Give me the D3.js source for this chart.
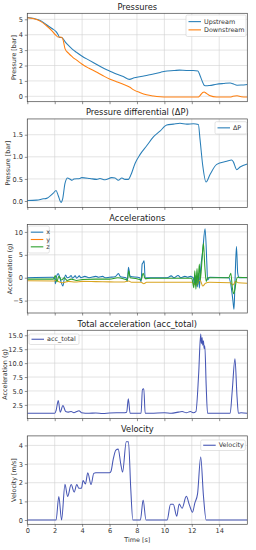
<!DOCTYPE html>
<html><head><meta charset="utf-8">
<script src="https://cdn.jsdelivr.net/npm/d3@7"></script>
<style>body{margin:0;background:#fff}svg{display:block;font-family:"DejaVu Sans",sans-serif}</style>
</head><body><svg id="c" width="256" height="550"></svg>
<script>
// ---------- DATA ----------
const timeTicks = [0,2,4,6,8,10,12,14];
const panelTitles = ["Pressures","Pressure differential (\u0394P)","Accelerations","Total acceleration (acc_total)","Velocity"];
const yLabels = ["Pressure [bar]","Pressure [bar]","Acceleration (g)","Acceleration (g)","Velocity [m/s]"];

const pTime = [0,0.5,1.0,1.4,1.8,2.1,2.25,2.35,2.5,2.6,2.75,3.0,3.3,3.6,4.0,4.5,5.0,5.5,6.0,6.5,7.0,7.45,7.8,8.2,8.7,9.2,9.7,10.2,10.7,11.1,11.6,12.1,12.45,12.6,12.8,12.9,13.05,13.3,13.8,14.3,14.8,15.0,15.3,15.6,16.05];
const upstream = [5.12,5.05,4.9,4.65,4.4,4.2,4.0,3.82,3.82,3.75,3.55,3.3,3.05,2.85,2.6,2.35,2.1,1.85,1.65,1.45,1.28,1.1,1.2,1.27,1.35,1.45,1.55,1.65,1.67,1.7,1.68,1.68,1.65,1.35,0.9,0.72,0.68,0.7,0.78,0.83,0.87,0.82,0.72,0.73,0.77];
const downstream = [5.1,5.03,4.85,4.58,4.25,3.95,3.85,3.85,3.84,3.7,3.1,2.8,2.55,2.35,2.08,1.82,1.6,1.35,1.12,0.95,0.78,0.6,0.4,0.25,0.1,0.02,-0.03,-0.05,-0.05,-0.05,-0.05,-0.05,-0.05,0.05,0.25,0.28,0.2,0.05,-0.05,-0.05,-0.05,0.0,0.03,-0.03,-0.05];

const dpTime = [0,0.68,1.17,1.4,1.9,2.1,2.26,2.46,2.58,2.75,2.94,3.1,3.26,3.4,3.84,3.97,4.57,5.06,5.3,5.67,6.16,6.4,6.64,6.9,7.13,7.37,7.57,7.86,8.22,8.71,9.2,9.68,10.17,10.66,11.14,11.63,12.12,12.48,12.6,12.8,13.04,13.33,13.82,14.55,14.91,15.04,15.28,15.52,16.05];
const deltaP = [0.01,0.02,0.05,0.06,0.18,0.24,0.12,-0.03,0.05,0.40,0.52,0.50,0.47,0.50,0.51,0.53,0.51,0.49,0.51,0.48,0.53,0.52,0.47,0.52,0.49,0.49,0.6,0.85,1.05,1.25,1.45,1.58,1.72,1.74,1.76,1.74,1.75,1.73,1.4,0.8,0.43,0.6,0.83,0.9,0.93,0.88,0.71,0.77,0.84];

const axTime = [0,1.9,2.0,2.05,2.12,2.25,2.35,2.45,2.6,2.7,2.8,2.9,3.1,3.2,3.3,3.5,3.6,3.8,3.9,4.2,4.5,5.0,5.2,5.5,5.7,6.0,6.4,6.65,6.8,7.2,7.3,7.38,7.5,8.2,8.3,8.38,8.45,8.52,8.6,8.7,10.2,10.5,10.7,11.0,11.2,11.5,11.7,11.9,12.1,12.2,12.3,12.4,12.5,12.55,12.65,12.8,12.97,13.1,13.15,13.3,14.7,14.85,15.0,15.08,15.15,15.26,15.35,15.45,16.05];
const accX = [0.0,0.1,-0.2,-1.3,0.2,0.9,0.3,-0.8,-1.8,-0.2,0.6,0.0,0.2,0.5,-0.1,0.4,-0.1,0.4,0.0,0.3,0.0,0.3,0.1,0.3,0.0,0.1,0.2,0.9,0.2,0.0,-0.8,2.3,0.3,0.0,-0.9,3.0,3.3,3.7,-0.2,0.0,0.0,0.4,0.0,0.5,0.0,0.3,0.1,0.3,0.0,-1.5,0.5,-2.0,1.0,-2.3,2.0,6.0,10.7,3.0,-0.5,0.1,0.0,-1.5,-5.0,-6.9,-1.0,6.8,1.0,0.0,0.05];
const ayTime = [0,2.0,2.1,2.3,2.6,3.0,3.5,4.0,5.0,6.0,7.0,7.4,7.6,8.3,8.5,8.7,10.0,12.0,12.3,12.6,12.8,13.0,13.3,14.8,15.0,15.2,15.4,16.05];
const accY = [-0.65,-0.7,-0.5,-0.9,-1.1,-0.8,-0.95,-0.8,-0.85,-0.9,-0.95,-0.7,-1.0,-1.0,-1.3,-1.0,-1.0,-1.0,-1.6,-0.5,-1.8,-1.2,-1.0,-1.1,-1.6,-0.8,-1.1,-1.2];
const azTime = [0,1.9,2.05,2.15,2.3,2.5,2.7,2.9,3.2,3.6,4.0,5.0,6.0,6.6,7.0,7.3,7.4,7.5,8.0,8.3,8.45,8.6,9.0,12.0,12.15,12.22,12.3,12.38,12.45,12.55,12.62,12.75,12.85,12.95,13.05,13.15,14.7,14.85,14.95,15.05,15.15,15.25,15.35,16.05];
const accZ = [-0.3,-0.3,0.5,-0.9,0.3,-0.5,0.0,-0.6,-0.3,-0.6,-0.4,-0.3,-0.3,0.0,-0.2,-0.5,1.5,0.0,-0.2,-0.5,1.0,-0.2,-0.1,-0.1,-2.2,1.5,-2.5,2.0,-1.5,3.0,-0.5,4.0,7.5,2.5,-0.8,0.0,0.0,1.0,-2.0,-3.5,-2.5,-0.5,0.1,0.0];

const atTime = [0,2.0,2.1,2.26,2.4,2.6,2.8,3.0,3.2,3.4,3.6,3.77,3.95,4.5,5.0,5.5,6.0,6.5,7.0,7.25,7.37,7.5,8.3,8.4,8.5,8.6,9.0,10.0,10.5,11.0,11.3,11.6,11.9,12.1,12.3,12.5,12.65,12.7,12.75,12.8,12.85,12.9,12.95,13.05,13.15,14.8,14.95,15.15,15.3,15.4,15.6,16.05];
const accTotal = [1.0,1.0,1.5,3.3,1.2,2.4,1.3,1.2,1.3,1.1,1.3,1.45,1.1,1.0,1.05,0.95,1.05,1.1,1.1,1.2,3.6,1.0,1.0,5.3,5.4,1.0,1.0,1.1,1.0,1.2,1.3,1.1,1.3,1.1,1.3,8.0,15.2,13.5,14.6,13.2,14.0,12.6,13.1,6.0,1.0,1.0,5.0,10.8,4.0,1.0,1.1,1.0];

const vTime = [0,2.1,2.3,2.5,2.75,2.94,3.2,3.42,3.61,3.76,3.95,4.07,4.24,4.41,4.65,4.85,5.0,6.0,6.1,6.27,6.46,6.63,6.82,6.95,7.22,7.38,7.55,7.7,8.25,8.45,8.66,10.2,10.45,10.65,10.9,11.08,11.29,11.6,11.83,12.05,12.22,12.42,12.65,12.85,13.05,16.05];
const velocity = [0,0,1.26,0,1.91,1.26,1.9,1.5,1.9,1.7,1.7,2.12,1.93,2.53,1.9,2.5,2.53,2.53,2.6,3.26,3.75,3.8,3.0,2.57,4.2,4.2,1.65,0,0,1.07,0,0,0.85,0.85,0.2,0.86,0.63,1.27,0.8,0.42,0.9,1.4,3.38,1.3,0,0];

const yTicks = [[0,1,2,3,4,5],[0,0.5,1.0,1.5],[-5,0,5,10],[2.5,5,7.5,10,12.5,15],[0,1,2,3,4]];
const yFormats = ["d",".1f","d",".1f","d"];

// ---------- LAYOUT ----------
const L = 27.3, R = 247.3, T0 = 13.3, STEP = 105.65, H = 88.4;
const yDomains = [[-0.35,5.39],[-0.143,1.857],[-7.7,11.6],[0.03,15.9],[-0.23,4.51]];
const yLabelX = [14,8.5,10,5,14];
const C = {blue:"#2a7fb8", orange:"#ff7f0e", green:"#2ca02c", yel:"#d9a520", indigo:"#4656b4"};

const svg = d3.select("#c");
const x = d3.scaleLinear().domain([0,16.05]).range([L,R]);

const series = [
  [{t:pTime,v:upstream,c:C.blue,n:"Upstream"},{t:pTime,v:downstream,c:C.orange,n:"Downstream"}],
  [{t:dpTime,v:deltaP,c:C.blue,n:"\u0394P"}],
  [{t:axTime,v:accX,c:"#1f77b4",n:"x"},{t:ayTime,v:accY,c:C.yel,n:"y",lc:C.orange},{t:azTime,v:accZ,c:C.green,n:"z"}],
  [{t:atTime,v:accTotal,c:C.indigo,n:"acc_total"}],
  [{t:vTime,v:velocity,c:C.indigo,n:"Velocity"}]
];
const legends = [
  {x:186,y:15,w:60,h:21.5},
  {x:215,y:121.7,w:31.7,h:12.3},
  {x:28.3,y:226,w:21,h:27},
  {x:29,y:334,w:50,h:10.5},
  {x:200.7,y:440,w:44.6,h:10.5}
];

series.forEach((ser,i)=>{
  const top = T0 + i*STEP, bot = top + H;
  const y = d3.scaleLinear().domain(yDomains[i]).range([bot,top]);
  const g = svg.append("g");
  const clipId = "clip"+i;
  svg.append("clipPath").attr("id",clipId).append("rect").attr("x",L).attr("y",top).attr("width",R-L).attr("height",H);
  // grid
  g.append("g").selectAll("line").data(timeTicks).join("line")
    .attr("x1",d=>x(d)).attr("x2",d=>x(d)).attr("y1",top).attr("y2",bot)
    .attr("stroke","#d2d2d2").attr("stroke-width",0.6);
  g.append("g").selectAll("line").data(yTicks[i]).join("line")
    .attr("x1",L).attr("x2",R).attr("y1",d=>y(d)).attr("y2",d=>y(d))
    .attr("stroke","#d2d2d2").attr("stroke-width",0.6);
  // lines
  const pg = g.append("g").attr("clip-path",`url(#${clipId})`);
  ser.forEach(s=>{
    const pts = s.t.map((t,k)=>[t,s.v[k]]);
    pg.append("path").datum(pts)
      .attr("d",d3.line().x(d=>x(d[0])).y(d=>y(d[1])).curve(d3.curveMonotoneX))
      .attr("fill","none").attr("stroke",s.c).attr("stroke-width",1.05).attr("stroke-linejoin","round");
  });
  // axes
  const ax = g.append("g").attr("transform",`translate(0,${bot})`)
    .call(d3.axisBottom(x).tickValues(timeTicks).tickSize(2.5).tickPadding(2).tickFormat(i===4?d3.format("d"):""));
  const ay = g.append("g").attr("transform",`translate(${L},0)`)
    .call(d3.axisLeft(y).tickValues(yTicks[i]).tickSize(2.5).tickPadding(1.8).tickFormat(d3.format(yFormats[i])));
  [ax,ay].forEach(a=>{
    a.select(".domain").remove();
    a.selectAll("line").attr("stroke","#444").attr("stroke-width",0.6);
    a.selectAll("text").attr("font-size",6.6).attr("fill","#333").attr("font-family","DejaVu Sans");
  });
  // frame
  g.append("rect").attr("x",L).attr("y",top).attr("width",R-L).attr("height",H)
    .attr("fill","none").attr("stroke","#444").attr("stroke-width",0.7);
  // title
  g.append("text").attr("x",(L+R)/2).attr("y",top-3.5).attr("text-anchor","middle")
    .attr("font-size",8.3).attr("fill","#222").text(panelTitles[i]);
  // y label
  g.append("text").attr("transform",`translate(${yLabelX[i]},${(top+bot)/2}) rotate(-90)`)
    .attr("text-anchor","middle").attr("dominant-baseline","middle")
    .attr("font-size",6.4).attr("fill","#333").text(yLabels[i]);
  // legend
  const lg = legends[i];
  const leg = g.append("g");
  leg.append("rect").attr("x",lg.x).attr("y",lg.y).attr("width",lg.w).attr("height",lg.h).attr("rx",1.5)
    .attr("fill","#fff").attr("fill-opacity",0.85).attr("stroke","#d0d0d0").attr("stroke-width",0.6);
  const rowH = ser.length>1 ? (lg.h-5)/ser.length : 0;
  ser.forEach((s,k)=>{
    const cy = ser.length>1 ? lg.y + 2.5 + rowH*(k+0.5) : lg.y + lg.h/2;
    leg.append("line").attr("x1",lg.x+2.5).attr("x2",lg.x+15).attr("y1",cy).attr("y2",cy)
      .attr("stroke",s.lc||s.c).attr("stroke-width",1.1);
    leg.append("text").attr("x",lg.x+18).attr("y",cy).attr("dominant-baseline","central")
      .attr("font-size",6.4).attr("fill","#333").text(s.n);
  });
});
// x label
svg.append("text").attr("x",(L+R)/2).attr("y",542).attr("text-anchor","middle")
  .attr("font-size",6.4).attr("fill","#333").text("Time [s]");
</script></body></html>
